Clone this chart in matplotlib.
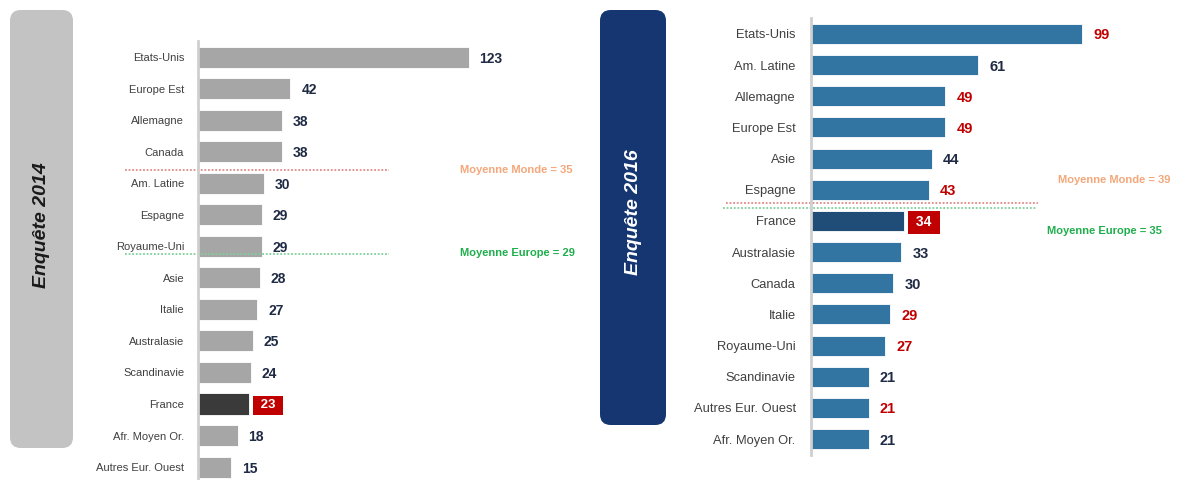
import matplotlib
matplotlib.use("Agg")
import matplotlib.pyplot as plt
from matplotlib.patches import FancyBboxPatch

plt.rcParams['font.family'] = ['Liberation Sans Narrow', 'Liberation Sans', 'DejaVu Sans']

# data
labels_2014 = ['Etats-Unis', 'Europe Est', 'Allemagne', 'Canada', 'Am. Latine', 'Espagne',
               'Royaume-Uni', 'Asie', 'Italie', 'Australasie', 'Scandinavie', 'France',
               'Afr. Moyen Or.', 'Autres Eur. Ouest']
values_2014 = [123, 42, 38, 38, 30, 29, 29, 28, 27, 25, 24, 23, 18, 15]
red_2014 = []

labels_2016 = ['Etats-Unis', 'Am. Latine', 'Allemagne', 'Europe Est', 'Asie', 'Espagne',
               'France', 'Australasie', 'Canada', 'Italie', 'Royaume-Uni', 'Scandinavie',
               'Autres Eur. Ouest', 'Afr. Moyen Or.']
values_2016 = [99, 61, 49, 49, 44, 43, 34, 33, 30, 29, 27, 21, 21, 21]
red_2016 = ['Etats-Unis', 'Allemagne', 'Europe Est', 'Espagne', 'Italie', 'Royaume-Uni',
            'Autres Eur. Ouest']

W, H = 1189, 480
fig = plt.figure(figsize=(W / 100, H / 100), dpi=100)


def px_axes(x0, y0, x1, y1):
    # pixel box (top-left origin) -> axes
    return fig.add_axes([x0 / W, 1 - y1 / H, (x1 - x0) / W, (y1 - y0) / H])


def side_box(x0, y0, x1, y1, color, text, tcolor, ty):
    box = FancyBboxPatch((x0 / W, 1 - y1 / H), (x1 - x0) / W, (y1 - y0) / H,
                         boxstyle="round,pad=0,rounding_size=0.009",
                         transform=fig.transFigure, facecolor=color, edgecolor='none',
                         mutation_aspect=W / H)
    fig.add_artist(box)
    fig.text((x0 + x1) / 2 / W, 1 - ty / H, text, rotation=90,
             ha='center', va='center', fontsize=14, style='italic', fontweight='bold',
             color=tcolor, family=['Liberation Sans', 'DejaVu Sans'])


def panel(ax, labels, values, reds, bar_col, fr_col, xmax, ylim, bh, fs, vfs, pad):
    y = list(range(len(labels)))
    cols = [fr_col if l == 'France' else bar_col for l in labels]
    ax.barh(y, values, height=bh, color=cols, edgecolor='white', linewidth=0.6)
    ax.set_xlim(0, xmax)
    ax.set_ylim(*ylim)
    ax.set_yticks(y)
    ax.set_yticklabels(labels, fontsize=fs, color='#404040')
    ax.tick_params(axis='y', length=0, pad=pad)
    ax.set_xticks([])
    for s in ['top', 'right', 'bottom']:
        ax.spines[s].set_visible(False)
    ax.spines['left'].set_color('#cfcfcf')
    ax.spines['left'].set_linewidth(2)
    ax.patch.set_alpha(0)
    for yi, (l, v) in enumerate(zip(labels, values)):
        if l == 'France':
            ax.text(v + xmax * 0.022, yi, f' {v} ', va='center_baseline', ha='left',
                    fontsize=vfs - 0.5, fontweight='bold', color='white',
                    bbox=dict(boxstyle='square,pad=0.3', facecolor='#c00000', edgecolor='none'))
        else:
            c = '#c00000' if l in reds else '#1f2a44'
            ax.text(v + xmax * 0.03, yi, str(v), va='center_baseline', ha='left',
                    fontsize=vfs, fontweight='bold', color=c)


side_box(10, 10, 73, 448, '#c3c3c3', 'Enquête 2014', '#1a1a1a', 225)
side_box(600, 10, 666, 425, '#153670', 'Enquête 2016', 'white', 212)

ax1 = px_axes(198, 41, 560, 480)
panel(ax1, labels_2014, values_2014, red_2014, '#a6a6a6', '#3a3a3a', (560 - 198) / 2.2,
      (13.41, -0.51), 0.67, 8, 10, 10)
ax2 = px_axes(811, 18, 1180, 455)
panel(ax2, labels_2016, values_2016, red_2016, '#3275a3', '#1f4d78', (1180 - 811) / 2.74,
      (13.51, -0.51), 0.64, 9.3, 10.5, 11)

# moyennes (rank position, x extent in data units)
ax1.plot([-33, 87], [3.58, 3.58], ls=(0, (1, 1)), color='#e08a8a', lw=1.3, clip_on=False)
ax1.plot([-33, 87], [6.25, 6.25], ls=(0, (1, 1)), color='#7fd09a', lw=1.3, clip_on=False)
ax1.text(119, 3.58, 'Moyenne Monde = 35', color='#f4a77a', fontsize=8, fontweight='bold',
         va='center', ha='left')
ax1.text(119, 6.2, 'Moyenne Europe = 29', color='#1fae4c', fontsize=8, fontweight='bold',
         va='center', ha='left')

ax2.plot([-31, 83], [5.43, 5.43], ls=(0, (1, 1)), color='#e08a8a', lw=1.3, clip_on=False)
ax2.plot([-32, 82], [5.59, 5.59], ls=(0, (1, 1)), color='#7fd09a', lw=1.3, clip_on=False)
ax2.text(90, 4.7, 'Moyenne Monde = 39', color='#f4a77a', fontsize=8, fontweight='bold',
         va='center', ha='left')
ax2.text(86, 6.32, 'Moyenne Europe = 35', color='#1fae4c', fontsize=8, fontweight='bold',
         va='center', ha='left')

fig.savefig('out.png', dpi=100)
